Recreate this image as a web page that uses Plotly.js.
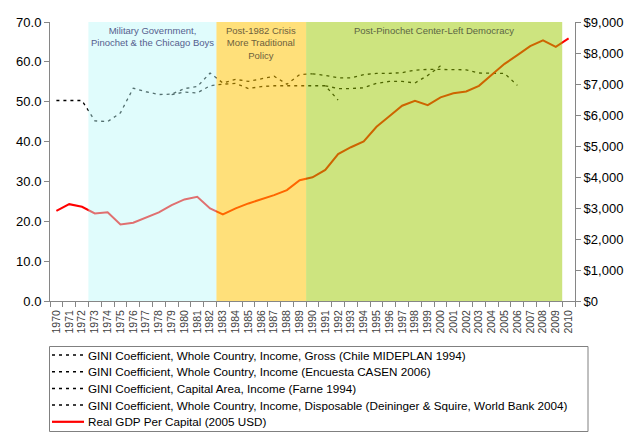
<!DOCTYPE html>
<html>
<head>
    <title>Chile GINI and GDP per capita</title>
    <script src="https://cdn.plot.ly/plotly-3.0.1.min.js"></script>
    <style>
        * {
            margin: 0;
            padding: 0;
        }

        body {
            background: white;
        }

        #chart {
            width: 640px;
            height: 438px;
        }
    </style>
</head>
<body>
    <div id="chart"></div>

    <script>
        const years = [];
        for (let y = 1970; y <= 2010; y++) years.push(y);

        // GINI series (years + values)
        const giniGrossYears = [1970, 1971, 1972, 1973, 1974, 1975, 1976, 1977, 1978, 1979, 1980,
            1981, 1982, 1983, 1984, 1985, 1986, 1987, 1988, 1989, 1990];
        const giniGross = [50.3, 50.3, 50.3, 45.2, 45.0, 47.2, 53.4, 52.5, 51.8, 51.9, 53.3,
            53.8, 57.2, 54.7, 55.6, 55.1, 55.7, 56.4, 54.4, 56.8, 57.0];

        const giniCasenYears = [1990, 1991, 1992, 1993, 1994, 1995, 1996, 1997, 1998, 1999, 2000,
            2001, 2002, 2003, 2004, 2005, 2006];
        const giniCasen = [57.0, 56.6, 56.0, 56.0, 56.8, 57.1, 57.1, 57.3, 57.9, 58.1, 58.1,
            58.1, 58.0, 57.2, 57.1, 57.1, 54.1];

        const giniCapitalYears = [1979, 1980, 1981, 1982, 1983, 1984, 1985, 1986, 1987, 1988,
            1989, 1990, 1991, 1992];
        const giniCapital = [51.8, 52.4, 52.2, 54.0, 54.4, 54.6, 53.3, 53.8, 54.0, 54.0,
            54.0, 54.0, 54.0, 50.4];

        const giniDispYears = [1991, 1992, 1993, 1994, 1995, 1996, 1997, 1998, 1999, 2000];
        const giniDisp = [54.0, 53.3, 53.3, 53.5, 54.6, 55.1, 55.1, 54.7, 56.6, 59.0];

        // Real GDP per capita, 2005 USD
        const gdp = [2906, 3124, 3040, 2826, 2860, 2470, 2524, 2690, 2860, 3094, 3277,
            3360, 2986, 2795, 2986, 3147, 3277, 3415, 3576, 3898, 3990,
            4230, 4740, 4960, 5150, 5620, 5960, 6300, 6460, 6320, 6570,
            6700, 6760, 6940, 7300, 7650, 7930, 8220, 8410, 8200, 8470];

        const seriesNames = [
            'GINI Coefficient, Whole Country, Income, Gross (Chile MIDEPLAN 1994)',
            'GINI Coefficient, Whole Country, Income (Encuesta CASEN 2006)',
            'GINI Coefficient, Capital Area, Income (Farne 1994)',
            'GINI Coefficient, Whole Country, Income, Disposable (Deininger & Squire, World Bank 2004)',
            'Real GDP Per Capital (2005 USD)'
        ];

        // political periods
        const eraStart = [1972.5, 1982.5, 1989.5];
        const eraEnd = [1982.5, 1989.5, 2009.5];
        const eraLabels = [
            'Military Government,<br>Pinochet & the Chicago Boys',
            'Post-1982 Crisis<br>More Traditional<br>Policy',
            'Post-Pinochet Center-Left Democracy'
        ];
        const eraFill = ['rgb(186,249,249)', 'rgb(255,195,0)', 'rgb(156,202,0)'];
        const eraOpacity = [0.45, 0.52, 0.5];
        const eraText = ['#55608e', '#6e5f3c', '#5c6644'];

        const font = 'Arial, "Liberation Sans", sans-serif';

        const W = 640, H = 438;
        const M = {l: 50, r: 65, t: 22, b: 137};
        const plotW = W - M.l - M.r;
        const plotH = H - M.t - M.b;
        // pixel -> paper coords, used for the legend box below the plot
        const px = x => (x - M.l) / plotW;
        const py = y => (H - M.b - y) / plotH;

        const giniLine = {color: '#000000', width: 1.3, dash: '3px,4px'};

        const data = [
            {x: giniGrossYears, y: giniGross, name: seriesNames[0]},
            {x: giniCasenYears, y: giniCasen, name: seriesNames[1]},
            {x: giniCapitalYears, y: giniCapital, name: seriesNames[2]},
            {x: giniDispYears, y: giniDisp, name: seriesNames[3]}
        ].map(t => Object.assign(t, {type: 'scatter', mode: 'lines', line: giniLine}));

        data.push({
            x: years,
            y: gdp,
            name: seriesNames[4],
            type: 'scatter',
            mode: 'lines',
            yaxis: 'y2',
            line: {color: '#ff0000', width: 2}
        });

        const shapes = eraStart.map((s, i) => ({
            type: 'rect',
            xref: 'x',
            yref: 'paper',
            x0: s,
            x1: eraEnd[i],
            y0: 0,
            y1: 1,
            fillcolor: eraFill[i],
            opacity: eraOpacity[i],
            line: {width: 0},
            layer: 'above'
        }));

        const annotations = eraStart.map((s, i) => ({
            x: (s + eraEnd[i]) / 2,
            xref: 'x',
            y: 0.997,
            yref: 'paper',
            yanchor: 'top',
            text: eraLabels[i],
            showarrow: false,
            font: {family: font, size: 9.5, color: eraText[i]}
        }));

        // legend drawn by hand: plotly's own rows are too tall for this box
        shapes.push({
            type: 'rect', xref: 'paper', yref: 'paper',
            x0: px(49.5), x1: px(588), y0: py(346.5), y1: py(431.5),
            fillcolor: 'white', line: {color: '#808080', width: 1}, layer: 'above'
        });
        data.forEach((t, i) => {
            const rowY = py(355 + i * 16.7);
            shapes.push({
                type: 'line', xref: 'paper', yref: 'paper',
                x0: px(52), x1: px(84), y0: rowY, y1: rowY,
                line: {color: t.line.color, width: t.line.width + 0.2, dash: t.line.dash || 'solid'},
                layer: 'above'
            });
            annotations.push({
                x: px(86), xref: 'paper', xanchor: 'left',
                y: rowY, yref: 'paper', yanchor: 'middle',
                text: t.name, showarrow: false,
                font: {family: font, size: 11.7, color: '#000'}
            });
        });

        const axisColor = '#868686';

        const layout = {
            width: W,
            height: H,
            margin: Object.assign({autoexpand: false}, M),
            paper_bgcolor: 'white',
            plot_bgcolor: 'white',
            font: {family: font, color: '#000'},
            showlegend: false,
            xaxis: {
                range: [1969.5, 2010.5],
                tickmode: 'linear',
                tick0: 1970,
                dtick: 1,
                tickangle: -90,
                ticks: 'outside',
                ticklen: 4,
                tickcolor: 'rgba(0,0,0,0)',
                tickfont: {family: font, size: 10.5, color: '#404040'},
                showgrid: false,
                zeroline: false,
                showline: true,
                linecolor: axisColor,
                minor: {
                    tick0: 1969.5,
                    dtick: 1,
                    ticks: 'outside',
                    ticklen: 5,
                    tickcolor: axisColor
                }
            },
            yaxis: {
                range: [0, 70],
                dtick: 10,
                tickformat: '.1f',
                ticks: 'outside',
                ticklen: 5,
                tickcolor: axisColor,
                tickfont: {family: font, size: 13, color: '#000'},
                showgrid: false,
                zeroline: false,
                showline: true,
                linecolor: axisColor
            },
            yaxis2: {
                overlaying: 'y',
                side: 'right',
                range: [0, 9000],
                dtick: 1000,
                tickprefix: '$',
                tickformat: ',d',
                ticks: 'outside',
                ticklen: 5,
                tickcolor: axisColor,
                tickfont: {family: font, size: 13, color: '#000'},
                showgrid: false,
                zeroline: false,
                showline: true,
                linecolor: axisColor
            },
            shapes: shapes,
            annotations: annotations
        };

        Plotly.newPlot('chart', data, layout, {displayModeBar: false, responsive: false});
    </script>
</body>
</html>
